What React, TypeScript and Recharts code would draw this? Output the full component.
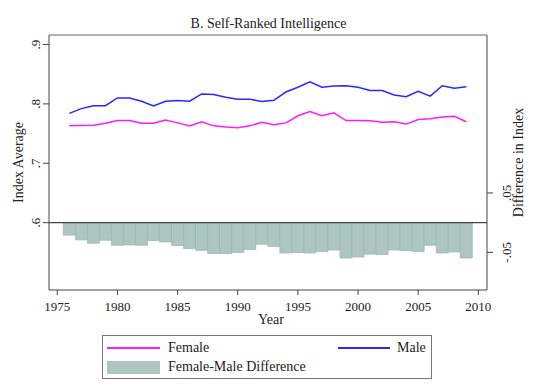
import React from 'react';
import {
  ComposedChart,
  Line,
  Bar,
  XAxis,
  YAxis,
  ReferenceLine,
} from 'recharts';

const years = [
  1976, 1977, 1978, 1979, 1980, 1981, 1982, 1983, 1984, 1985, 1986, 1987,
  1988, 1989, 1990, 1991, 1992, 1993, 1994, 1995, 1996, 1997, 1998, 1999,
  2000, 2001, 2002, 2003, 2004, 2005, 2006, 2007, 2008, 2009,
];

const female = [
  0.763, 0.7635, 0.764, 0.7675, 0.772, 0.772, 0.7675, 0.7675, 0.773, 0.768,
  0.763, 0.77, 0.763, 0.761, 0.76, 0.763, 0.769, 0.765, 0.768, 0.78, 0.787,
  0.78, 0.785, 0.772, 0.772, 0.7715, 0.769, 0.77, 0.766, 0.7736, 0.775, 0.778,
  0.779, 0.77,
];

const male = [
  0.784, 0.792, 0.797, 0.797, 0.81, 0.81, 0.8045, 0.7966, 0.8045, 0.8056,
  0.8045, 0.8168, 0.8157, 0.811, 0.808, 0.808, 0.804, 0.806, 0.82, 0.828,
  0.837, 0.828, 0.83, 0.8305, 0.828, 0.8225, 0.8225, 0.815, 0.812, 0.821,
  0.813, 0.8305, 0.8264, 0.829,
];

const difference = [
  -0.021, -0.029, -0.0346, -0.0296, -0.038, -0.0375, -0.038, -0.03, -0.0324,
  -0.0385, -0.0436, -0.0465, -0.052, -0.052, -0.05, -0.0453, -0.0363, -0.04,
  -0.051, -0.0503, -0.051, -0.0487, -0.046, -0.0595, -0.0578, -0.053, -0.0537,
  -0.046, -0.047, -0.0487, -0.038, -0.051, -0.0493, -0.0595,
];

const yearTicks = [1975, 1980, 1985, 1990, 1995, 2000, 2005, 2010];
const avgTicks = [0.6, 0.7, 0.8, 0.9];
const diffTicks = [-0.05, 0.05];

const chartData = years.map((year, i) => ({
  year,
  female: female[i],
  male: male[i],
  diff: difference[i],
}));

const FONT = '"Liberation Serif", "Times New Roman", serif';
const AXIS = '#444';

const fmt = (v: number) => {
  const s = Math.abs(v) < 0.1 ? v.toFixed(2) : v.toFixed(1);
  return s.replace('0.', '.');
};

const rotTick = (cx: number) => (props: any) => {
  const { y, payload } = props;
  return (
    <text
      x={cx}
      y={y}
      transform={`rotate(-90 ${cx} ${y})`}
      textAnchor="middle"
      dy="0.35em"
      fontSize={13}
      fontFamily={FONT}
      fill="#222"
    >
      {fmt(payload.value)}
    </text>
  );
};

const BottomTick = (props: any) => {
  const { x, payload } = props;
  return (
    <text x={x} y={311} textAnchor="middle" fontSize={13} fontFamily={FONT} fill="#222">
      {payload.value}
    </text>
  );
};

// side: 'left' measures from the axis line at vb.x + vb.width, 'right' from vb.x
const vLabel = (text: string, side: 'left' | 'right') => (props: any) => {
  const vb = props.viewBox;
  const cx = side === 'left' ? vb.x + vb.width - 31 : vb.x + 31;
  const cy = vb.y + vb.height / 2;
  return (
    <text
      x={cx}
      y={cy}
      transform={`rotate(-90 ${cx} ${cy})`}
      textAnchor="middle"
      dy="0.35em"
      fontSize={14}
      fontFamily={FONT}
      fill="#222"
    >
      {text}
    </text>
  );
};

const yearLabel = (props: any) => {
  const vb = props.viewBox;
  return (
    <text
      x={vb.x + vb.width / 2 + 3}
      y={324}
      textAnchor="middle"
      fontSize={14}
      fontFamily={FONT}
      fill="#222"
    >
      Year
    </text>
  );
};

const textStyle: React.CSSProperties = {
  position: 'absolute',
  fontFamily: FONT,
  fontSize: 14,
  color: '#222',
  whiteSpace: 'nowrap',
  lineHeight: '14px',
};

export default function App() {
  return (
    <div style={{ position: 'absolute', left: 0, top: 0, width: 535, height: 392, background: '#fff' }}>
      <ComposedChart
        width={535}
        height={392}
        data={chartData}
        margin={{ top: 34, right: 18, bottom: 72, left: 19 }}
      >
        <XAxis
          dataKey="year"
          type="number"
          domain={[1974.31, 2010.72]}
          ticks={yearTicks}
          allowDataOverflow
          height={30}
          stroke={AXIS}
          tickSize={5}
          tick={<BottomTick />}
          label={yearLabel}
        />
        <XAxis
          xAxisId="top"
          dataKey="year"
          type="number"
          orientation="top"
          domain={[1974.31, 2010.72]}
          allowDataOverflow
          height={1}
          tick={false}
          tickLine={false}
          axisLine={{ stroke: '#999', strokeWidth: 1.5 }}
        />
        <YAxis
          yAxisId="avg"
          type="number"
          domain={[0.4866, 0.916]}
          ticks={avgTicks}
          allowDataOverflow
          width={30}
          stroke={AXIS}
          tickSize={6}
          tick={rotTick(35)}
          label={vLabel('Index Average', 'left')}
        />
        <YAxis
          yAxisId="diff"
          orientation="right"
          type="number"
          domain={[-0.1134, 0.316]}
          ticks={diffTicks}
          allowDataOverflow
          width={30}
          stroke={AXIS}
          tickSize={6}
          tick={rotTick(506)}
          label={vLabel('Difference in Index', 'right')}
        />
        <Bar
          yAxisId="diff"
          dataKey="diff"
          barSize={12}
          fill="#adc6c0"
          stroke="#9cbab2"
          strokeWidth={0.8}
          isAnimationActive={false}
        />
        <ReferenceLine yAxisId="diff" y={0} stroke={AXIS} strokeWidth={1.2} />
        <Line
          yAxisId="avg"
          dataKey="female"
          stroke="#ff1aff"
          strokeWidth={1.5}
          dot={false}
          isAnimationActive={false}
        />
        <Line
          yAxisId="avg"
          dataKey="male"
          stroke="#2828ff"
          strokeWidth={1.5}
          dot={false}
          isAnimationActive={false}
        />
      </ComposedChart>

      <div style={{ ...textStyle, left: 0, width: 535, top: 17, textAlign: 'center', paddingLeft: 1 }}>
        B. Self-Ranked Intelligence
      </div>

      <div
        style={{
          position: 'absolute',
          left: 102,
          top: 335,
          width: 330,
          height: 44,
          border: '1px solid #777',
          boxSizing: 'border-box',
        }}
      />
      <div style={{ position: 'absolute', left: 107, top: 347, width: 53, height: 2, background: '#ff1aff' }} />
      <div style={{ ...textStyle, left: 168, top: 341 }}>Female</div>
      <div style={{ position: 'absolute', left: 338, top: 347, width: 52, height: 2, background: '#2828ff' }} />
      <div style={{ ...textStyle, left: 397, top: 341 }}>Male</div>
      <div style={{ position: 'absolute', left: 107, top: 361, width: 53, height: 13, background: '#adc6c0' }} />
      <div style={{ ...textStyle, left: 168, top: 360 }}>Female-Male Difference</div>
    </div>
  );
}
